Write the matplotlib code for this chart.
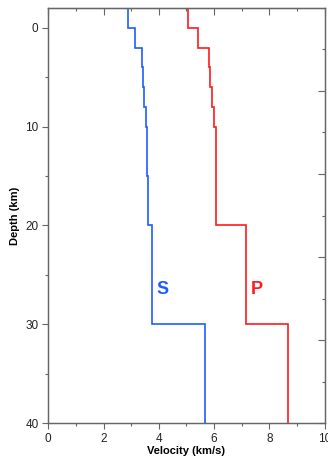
import matplotlib
matplotlib.use("Agg")
import matplotlib.pyplot as plt
from matplotlib.ticker import MultipleLocator

plt.rcParams["font.family"] = ["Liberation Sans", "DejaVu Sans"]

# layer boundaries (km) and velocities (km/s)
depth_edges = [-3, -2, 0, 2, 4, 6, 8, 10, 15, 20, 30, 40]
vs = [2.65, 2.88, 3.14, 3.40, 3.44, 3.48, 3.52, 3.56, 3.60, 3.75, 5.68]
vp = [4.67, 5.04, 5.43, 5.81, 5.86, 5.93, 5.98, 6.05, 6.08, 7.15, 8.68]

S_COLOR = "#1f5cff"
P_COLOR = "#ff1a1a"
AX_COLOR = "#666666"

fig = plt.figure(figsize=(3.28, 4.59), dpi=100)
ax = fig.add_axes([0.147, 0.0784, 0.843, 0.9042])

ax.stairs(vs, depth_edges, orientation="horizontal", baseline=None,
          color=S_COLOR, lw=1.2)
ax.stairs(vp, depth_edges, orientation="horizontal", baseline=None,
          color=P_COLOR, lw=1.2)

ax.text(4.15, 26.5, "S", color=S_COLOR, fontsize=13, fontweight="bold",
        ha="center", va="center")
ax.text(7.55, 26.5, "P", color=P_COLOR, fontsize=13, fontweight="bold",
        ha="center", va="center")

ax.set_xlim(0, 10)
ax.set_ylim(40, -2)

ax.xaxis.set_major_locator(MultipleLocator(2))
ax.xaxis.set_minor_locator(MultipleLocator(1))
ax.yaxis.set_major_locator(MultipleLocator(10))
ax.yaxis.set_minor_locator(MultipleLocator(5))

ax.tick_params(which="major", direction="out", length=4, width=0.8,
               color=AX_COLOR, labelsize=8.5, labelcolor="#222222", pad=3)
ax.tick_params(which="minor", direction="out", length=2, width=0.8,
               color=AX_COLOR)

for sp in ax.spines.values():
    sp.set_color(AX_COLOR)
    sp.set_linewidth(0.9)

# top: inward ticks, no labels
top = ax.secondary_xaxis("top")
top.xaxis.set_major_locator(MultipleLocator(2))
top.xaxis.set_minor_locator(MultipleLocator(1))
top.tick_params(which="major", direction="in", length=5, width=0.8,
                color=AX_COLOR, labeltop=False)
top.tick_params(which="minor", direction="in", length=2.5, width=0.8,
                color=AX_COLOR)
top.spines["top"].set_color(AX_COLOR)

# right: inward ticks on a separate scale, no labels
right = ax.twinx()
right.set_ylim(0, 5)
right.set_yticks([0, 1, 2, 3, 4])
right.set_yticks([0.5, 1.5, 2.5, 3.5, 4.5], minor=True)
right.tick_params(which="major", direction="in", length=5, width=0.8,
                  color=AX_COLOR, labelright=False)
right.tick_params(which="minor", direction="in", length=2.5, width=0.8,
                  color=AX_COLOR)
for sp in right.spines.values():
    sp.set_color(AX_COLOR)
    sp.set_linewidth(0.9)

ax.set_xlabel("Velocity (km/s)", fontsize=8, fontweight="bold", labelpad=1)
ax.set_ylabel("Depth (km)", fontsize=8, fontweight="bold", labelpad=4)

fig.savefig("out.png", dpi=100)
